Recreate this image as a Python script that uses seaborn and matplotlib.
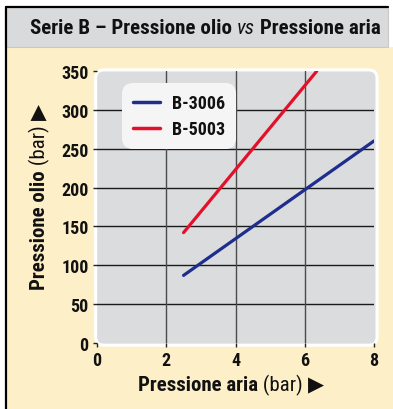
import matplotlib
matplotlib.use("Agg")
import matplotlib.pyplot as plt
from matplotlib.patches import FancyBboxPatch, Rectangle
from matplotlib.lines import Line2D
import seaborn as sns
import pandas as pd

# Series data: air pressure (bar) -> oil pressure (bar)
series_names = ["B-3006", "B-5003"]
air_b3006 = [2.5, 8.0]
oil_b3006 = [87, 260]
air_b5003 = [2.5, 6.35]
oil_b5003 = [142, 350]

x_ticks = [0, 2, 4, 6, 8]
y_ticks = [0, 50, 100, 150, 200, 250, 300, 350]

line_colors = ["#1f2d8c", "#e4102a"]

df = pd.DataFrame({
    "aria": air_b3006 + air_b5003,
    "olio": oil_b3006 + oil_b5003,
    "serie": [series_names[0]] * len(air_b3006) + [series_names[1]] * len(air_b5003),
})

sns.set_theme(style="white")
FONT = ["Roboto Condensed", "DejaVu Sans"]
plt.rcParams["font.family"] = FONT

W, H = 393, 410
fig = plt.figure(figsize=(W / 100, H / 100), dpi=100)
fig.patch.set_facecolor("white")

# cream panel and grey title band, with a black frame on left and top
cream = Rectangle((5 / W, 0), 388 / W, 1 - 48 / H, transform=fig.transFigure,
                  facecolor="#fdf0c8", edgecolor="none", zorder=-2)
band = Rectangle((5 / W, 1 - 48 / H), 383 / W, 40 / H, transform=fig.transFigure,
                 facecolor="#d9dadc", edgecolor="#c8c8c8", linewidth=0.8, zorder=-2)
fig.patches.extend([cream, band])
fig.add_artist(Line2D([5.5 / W, 5.5 / W], [0, 1 - 7.5 / H], transform=fig.transFigure,
                      color="black", linewidth=1.6))
fig.add_artist(Line2D([5.5 / W, 388 / W], [1 - 7.5 / H, 1 - 7.5 / H], transform=fig.transFigure,
                      color="black", linewidth=1.6))

# title with mixed styles
title_parts = [("Serie B – Pressione olio ", "bold", "normal"),
               ("vs", "normal", "italic"),
               (" Pressione aria", "bold", "normal")]
fig.canvas.draw()
renderer = fig.canvas.get_renderer()
texts = []
for s, w, st in title_parts:
    t = fig.text(0, 1 - 29 / H, s, fontsize=15.1, fontweight=w, fontstyle=st,
                 family=FONT, va="center", ha="left", color="#111111")
    texts.append(t)
widths = [t.get_window_extent(renderer).width for t in texts]
x = 205 / W - sum(widths) / 2 / W
for t, wdt in zip(texts, widths):
    t.set_x(x)
    x += wdt / W

# axes
left, right, bottom, top = 97, 374, 344, 72
ax = fig.add_axes([left / W, 1 - bottom / H, (right - left) / W, (bottom - top) / H])
ax.set_facecolor("none")
bg = FancyBboxPatch((-0.005, -0.008), 1.016, 1.012, boxstyle="round,pad=0,rounding_size=0.03",
                    transform=ax.transAxes, facecolor="#dbdcde", edgecolor="white",
                    linewidth=2.2, zorder=0, clip_on=False, mutation_aspect=277 / 272)
ax.add_patch(bg)

for v in y_ticks[1:-1]:
    ax.axhline(v, color="#1a1a1a", linewidth=1.0, zorder=1)
for v in x_ticks[1:-1]:
    ax.axvline(v, color="#4a4a4a", linewidth=1.0, zorder=1)

sns.lineplot(data=df, x="aria", y="olio", hue="serie", palette=line_colors,
             linewidth=2.3, ax=ax, zorder=3, legend=True)

ax.set_xlim(0, 8)
ax.set_ylim(0, 350)
ax.set_xticks(x_ticks)
ax.set_yticks(y_ticks)
for sp in ax.spines.values():
    sp.set_visible(False)
ax.tick_params(axis="both", which="both", length=3, width=1, color="#222222",
               direction="out", pad=3, labelsize=13, bottom=True, left=True)
for lab in ax.get_xticklabels() + ax.get_yticklabels():
    lab.set_fontweight("bold")
    lab.set_color("#111111")

ax.set_xlabel("")
ax.set_ylabel("")

leg = ax.legend(loc="upper left", bbox_to_anchor=(0.09, 0.955), borderaxespad=0,
                frameon=True, fancybox=True, facecolor="#f5f5f5", edgecolor="none",
                framealpha=1, fontsize=13, handlelength=1.5, handletextpad=0.7,
                borderpad=0.6, labelspacing=0.45)
leg.get_frame().set_boxstyle("round,pad=0,rounding_size=0.6")
for t in leg.get_texts():
    t.set_fontweight("bold")
    t.set_color("#111111")
for h in leg.get_lines():
    h.set_linewidth(2.5)

# axis labels with mixed weights
def mixed_label(x0, y0, parts, rotation=0):
    fig.canvas.draw()
    r = fig.canvas.get_renderer()
    objs = []
    for s, w in parts:
        t = fig.text(0, 0, s, fontsize=15, fontweight=w, family=FONT,
                     rotation=rotation, rotation_mode="anchor",
                     ha="left", va="baseline", color="#111111")
        objs.append(t)
    sizes = []
    for t in objs:
        bb = t.get_window_extent(r)
        sizes.append(bb.height if rotation else bb.width)
    total = sum(sizes)
    pos = -total / 2
    for t, s in zip(objs, sizes):
        if rotation:
            t.set_position((x0 / W, 1 - (y0 - pos) / H))
        else:
            t.set_position(((x0 + pos) / W, 1 - y0 / H))
        pos += s

mixed_label(231, 391, [("Pressione aria", "bold"), (" (bar) ", "normal"), ("▶", "normal")])
mixed_label(45, 197, [("Pressione olio", "bold"), (" (bar) ", "normal"), ("▶", "normal")], rotation=90)

fig.savefig("out.png", dpi=100, facecolor=fig.get_facecolor())
